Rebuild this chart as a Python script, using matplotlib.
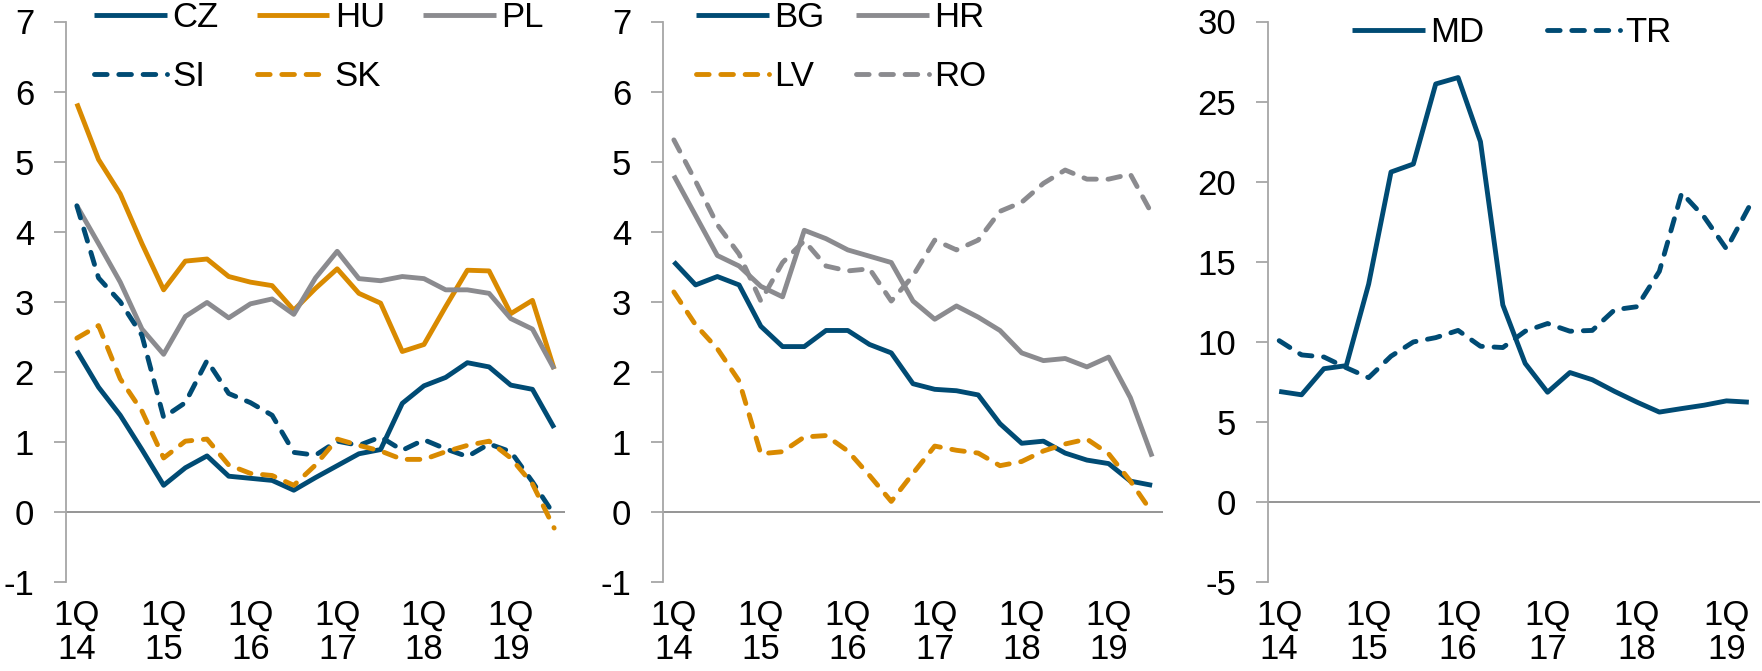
import matplotlib
matplotlib.use("Agg")
import matplotlib.pyplot as plt

plt.rcParams["font.family"] = ["Liberation Sans", "DejaVu Sans"]

# quarters 1Q14 .. 3Q19 (panels 1-2), 1Q14 .. 2Q19 (panel 3)
years = ["14", "15", "16", "17", "18", "19"]
quarters = [f"{q}Q{y}" for y in years for q in range(1, 5)]
q23 = quarters[:23]
q22 = quarters[:22]

# panel 1
cz = [2.30, 1.78, 1.38, 0.89, 0.38, 0.63, 0.80, 0.51, 0.48, 0.45, 0.31, 0.49,
      0.66, 0.83, 0.89, 1.55, 1.80, 1.92, 2.13, 2.07, 1.81, 1.75, 1.20]
hu = [5.83, 5.03, 4.54, 3.83, 3.17, 3.58, 3.61, 3.36, 3.28, 3.23, 2.88, 3.19,
      3.47, 3.12, 2.98, 2.29, 2.39, 2.93, 3.45, 3.44, 2.83, 3.02, 2.04]
pl = [4.37, 3.83, 3.28, 2.61, 2.25, 2.79, 2.99, 2.77, 2.97, 3.04, 2.82, 3.34,
      3.72, 3.33, 3.30, 3.36, 3.33, 3.17, 3.17, 3.12, 2.76, 2.61, 2.04]
si = [4.37, 3.34, 3.00, 2.52, 1.35, 1.56, 2.16, 1.69, 1.56, 1.38, 0.85, 0.81,
      1.01, 0.95, 1.07, 0.88, 1.03, 0.90, 0.79, 0.97, 0.86, 0.43, -0.04]
sk = [2.48, 2.66, 1.90, 1.44, 0.77, 1.01, 1.04, 0.67, 0.55, 0.52, 0.38, 0.67,
      1.04, 0.95, 0.87, 0.75, 0.75, 0.86, 0.95, 1.01, 0.77, 0.40, -0.23]

# panel 2
bg = [3.57, 3.24, 3.36, 3.24, 2.65, 2.36, 2.36, 2.59, 2.59, 2.39, 2.27, 1.83,
      1.75, 1.73, 1.67, 1.26, 0.98, 1.01, 0.84, 0.74, 0.69, 0.44, 0.38]
hr = [4.80, 4.23, 3.66, 3.51, 3.22, 3.07, 4.02, 3.90, 3.74, 3.65, 3.56, 3.01,
      2.75, 2.94, 2.78, 2.59, 2.27, 2.16, 2.19, 2.07, 2.21, 1.63, 0.79]
lv = [3.14, 2.67, 2.33, 1.87, 0.83, 0.86, 1.07, 1.09, 0.87, 0.52, 0.15, 0.55,
      0.94, 0.88, 0.84, 0.66, 0.72, 0.87, 0.97, 1.04, 0.83, 0.44, -0.01]
ro = [5.31, 4.72, 4.10, 3.68, 3.01, 3.56, 3.87, 3.51, 3.44, 3.47, 3.01, 3.37,
      3.88, 3.74, 3.88, 4.29, 4.42, 4.69, 4.88, 4.75, 4.75, 4.82, 4.25]

# panel 3
md = [6.90, 6.69, 8.32, 8.51, 13.6, 20.6, 21.1, 26.1, 26.5, 22.5, 12.3, 8.65,
      6.85, 8.08, 7.63, 6.90, 6.23, 5.61, 5.83, 6.04, 6.31, 6.23]
tr = [10.07, 9.18, 9.05, 8.38, 7.76, 9.10, 9.99, 10.26, 10.71, 9.72, 9.64, 10.66,
      11.14, 10.66, 10.71, 12.0, 12.19, 14.4, 19.3, 17.8, 15.8, 18.4]

NAVY = "#004b74"
ORANGE = "#d98a00"
GREY = "#8b8b8f"
DASH = (0, (2.6, 2.4))
LW = 3.5
FS = 25

W, H = 1762, 671
fig = plt.figure(figsize=(W / 100, H / 100), dpi=100)


def make_ax(x0, x1, y0, y1):
    return fig.add_axes([x0 / W, 1 - y1 / H, (x1 - x0) / W, (y1 - y0) / H])


def style(ax, n, ylim, yticks):
    for s in ["top", "right", "bottom"]:
        ax.spines[s].set_visible(False)
    ax.spines["left"].set_color("#a6a6a6")
    ax.spines["left"].set_linewidth(1.3)
    ax.set_xlim(-0.5, n - 0.5)
    ax.set_ylim(*ylim)
    ax.set_yticks(yticks)
    ax.set_yticklabels([str(t) for t in yticks])
    ax.axhline(0, color="#8c8c8c", lw=1.3, zorder=1)
    ax.tick_params(axis="y", length=9, width=1.3, color="#a6a6a6",
                   pad=14, labelsize=FS)
    pos = list(range(0, n, 4))
    ax.set_xticks(pos)
    ax.set_xticklabels([f"1Q\n{years[i // 4]}" for i in pos], linespacing=1.05)
    ax.tick_params(axis="x", length=0, pad=12, labelsize=FS)


def line(ax, y, color, dashed=False, label=None):
    ax.plot(range(len(y)), y, color=color, lw=LW,
            linestyle=DASH if dashed else "-",
            dash_capstyle="round", solid_capstyle="butt", label=label)


def legend(ax, order, x, y, ncol, colsp):
    hs, ls = ax.get_legend_handles_labels()
    d = dict(zip(ls, hs))
    ax.legend([d[k] for k in order], order, loc="upper left",
              bbox_to_anchor=(x, y), ncol=ncol, frameon=False,
              fontsize=FS, handlelength=2.1, handletextpad=0.15,
              columnspacing=colsp, labelspacing=0.75, borderaxespad=0,
              borderpad=0)


ax1 = make_ax(66, 565, 21.5, 582)
ax2 = make_ax(663, 1163, 21.5, 582)
ax3 = make_ax(1268, 1760, 21.5, 582)

line(ax1, cz, NAVY, label="CZ")
line(ax1, hu, ORANGE, label="HU")
line(ax1, pl, GREY, label="PL")
line(ax1, si, NAVY, True, label="SI")
line(ax1, sk, ORANGE, True, label="SK")
style(ax1, len(q23), (-1, 7), list(range(-1, 8)))
legend(ax1, ["CZ", "SI", "HU", "SK", "PL"], 0.056, 1.037, 3, 1.1)

line(ax2, bg, NAVY, label="BG")
line(ax2, hr, GREY, label="HR")
line(ax2, lv, ORANGE, True, label="LV")
line(ax2, ro, GREY, True, label="RO")
style(ax2, len(q23), (-1, 7), list(range(-1, 8)))
legend(ax2, ["BG", "LV", "HR", "RO"], 0.066, 1.037, 2, 0.9)

line(ax3, md, NAVY, label="MD")
line(ax3, tr, NAVY, True, label="TR")
style(ax3, len(q22), (-5, 30), list(range(-5, 31, 5)))
legend(ax3, ["MD", "TR"], 0.171, 1.01, 2, 1.8)

fig.savefig("out.png", dpi=100)
